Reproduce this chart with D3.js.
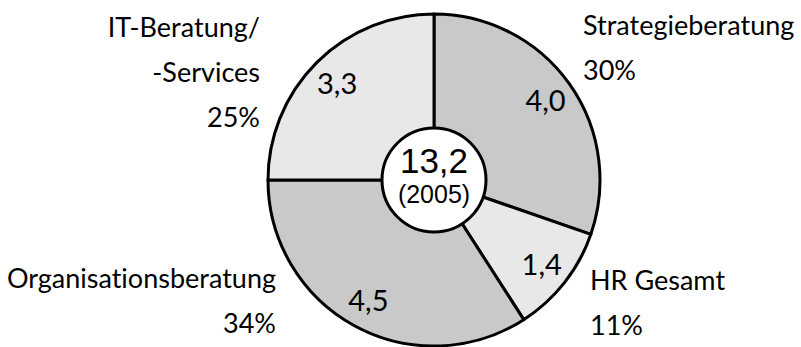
<!DOCTYPE html>
<html>
<head>
<meta charset="utf-8">
<script src="https://cdn.jsdelivr.net/npm/d3@7"></script>
<style>
  body { margin: 0; background: #fff; }
  svg { display: block; }
  text { font-variant-ligatures: none; font-feature-settings: "liga" 0; }
</style>
</head>
<body>
<div id="chart"></div>
<script>
const categories = ["Strategieberatung", "HR Gesamt", "Organisationsberatung", "IT-Beratung/\n-Services"]
const values = [4.0, 1.4, 4.5, 3.3]
const percentLabels = ["30%", "11%", "34%", "25%"]
const totalLabel = "13,2"
const yearLabel = "(2005)"

const WIDTH = 801
const HEIGHT = 347
const CX = 434, CY = 180
const RADIUS = 166
const HOLE = 52

const fills = ["#c9c9c9", "#e8e8e8", "#c9c9c9", "#e8e8e8"]

// where each outer label block starts: x, first baseline, anchor
const labelLayout = [
    {x: 583, y: 35, anchor: "start"},
    {x: 590, y: 290, anchor: "start"},
    {x: 276, y: 288, anchor: "end"},
    {x: 260, y: 37, anchor: "end"}
]
const LINE = 45

const svg = d3.select("#chart")
    .append("svg")
    .attr("width", WIDTH)
    .attr("height", HEIGHT)

const g = svg.append("g")
    .attr("transform", `translate(${CX}, ${CY})`)

const pie = d3.pie().sort(null).value(d => d)
const arcs = pie(values)

const arc = d3.arc().innerRadius(0).outerRadius(RADIUS)
const labelArc = d3.arc().innerRadius(137).outerRadius(137)

g.selectAll("path.slice")
    .data(arcs)
    .enter().append("path")
    .attr("class", "slice")
    .attr("d", arc)
    .attr("fill", (d, i) => fills[i])
    .attr("stroke", "#000")
    .attr("stroke-width", 3)
    .attr("stroke-linejoin", "round")

// value labels
g.selectAll("text.val")
    .data(arcs)
    .enter().append("text")
    .attr("class", "val")
    .attr("x", d => labelArc.centroid(d)[0])
    .attr("y", d => labelArc.centroid(d)[1])
    .attr("dy", "0.36em")
    .attr("text-anchor", "middle")
    .style("font-family", "Lato, 'Open Sans', sans-serif")
    .style("font-size", "29px")
    .text(d => d3.format(".1f")(d.data).replace(".", ","))

// center circle
g.append("circle")
    .attr("r", HOLE)
    .attr("fill", "#fff")
    .attr("stroke", "#000")
    .attr("stroke-width", 3)

g.append("text")
    .attr("y", -7)
    .attr("text-anchor", "middle")
    .style("font-family", "'Liberation Sans', Arial, sans-serif")
    .style("font-size", "35px")
    .text(totalLabel)

g.append("text")
    .attr("y", 23)
    .attr("text-anchor", "middle")
    .style("font-family", "'Liberation Sans', Arial, sans-serif")
    .style("font-size", "25px")
    .text(yearLabel)

// outer category labels
categories.forEach((c, i) => {
    const pos = labelLayout[i]
    const lines = c.split("\n").concat(percentLabels[i])
    const t = svg.append("text")
        .attr("text-anchor", pos.anchor)
        .style("font-family", "Lato, 'Open Sans', sans-serif")
        .style("font-size", "27px")
    lines.forEach((l, j) => {
        t.append("tspan")
            .attr("x", pos.x)
            .attr("y", pos.y + j * LINE)
            .text(l)
    })
})
</script>
</body>
</html>
